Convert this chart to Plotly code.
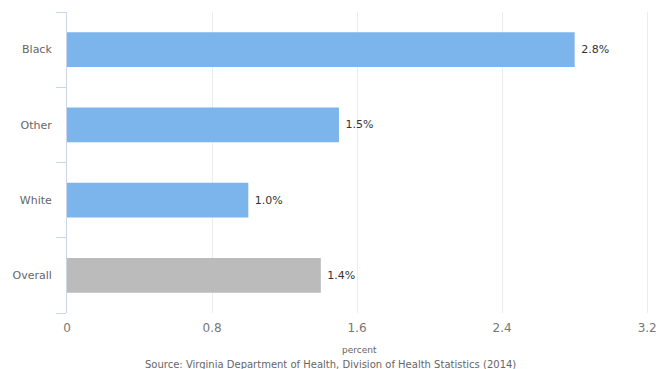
import plotly.graph_objects as go

categories = ["Overall", "White", "Other", "Black"]
values = [1.4, 1.0, 1.5, 2.8]
colors = ["#bbbbbb", "#7cb5ec", "#7cb5ec", "#7cb5ec"]
labels = [f" {v:.1f}%" for v in values]
x_ticks = [0, 0.8, 1.6, 2.4, 3.2]
x_tick_labels = ["0", "0.8", "1.6", "2.4", "3.2"]

fig = go.Figure(go.Bar(
    y=categories, x=values, orientation="h",
    marker=dict(color=colors, line=dict(width=0)),
    width=0.46,
    text=labels, textposition="outside", cliponaxis=False,
    textfont=dict(family="DejaVu Sans", size=11, color="#333333"),
))

fig.update_layout(
    width=656, height=369,
    margin=dict(l=67, r=7, t=12, b=56, autoexpand=False),
    paper_bgcolor="white", plot_bgcolor="white",
    showlegend=False,
    font=dict(family="DejaVu Sans", color="#666666"),
    xaxis=dict(
        range=[0, 3.21], tickvals=x_ticks, ticktext=x_tick_labels,
        showgrid=True, gridcolor="#ececec", gridwidth=1,
        zeroline=False, showline=False, ticks="", automargin=False,
        ticklabelstandoff=6, ticklabeloverflow="allow",
        tickfont=dict(size=12, color="#777777"),
    ),
    yaxis=dict(
        categoryorder="array", categoryarray=categories,
        showline=True, linecolor="#ccd6eb", linewidth=1,
        ticks="outside", tickson="boundaries", ticklen=10, tickcolor="#ccd6eb",
        ticklabelstandoff=12, automargin=False,
        tickfont=dict(size=11, color="#666666"),
        showgrid=False, zeroline=False,
    ),
    annotations=[
        dict(text="percent", x=(359 - 67) / 582, y=0, xref="paper", yref="paper",
             xanchor="center", yanchor="middle", yshift=-37, showarrow=False,
             font=dict(size=9, color="#666666")),
        dict(text="Source: Virginia Department of Health, Division of Health Statistics (2014)",
             x=(330 - 67) / 582, y=0, xref="paper", yref="paper",
             xanchor="center", yanchor="middle", yshift=-51, showarrow=False,
             font=dict(size=10, color="#666666")),
    ],
)

fig.write_html("out.html", config={"displayModeBar": False},
               post_script="document.body.style.margin='0';document.body.style.overflow='hidden';")
